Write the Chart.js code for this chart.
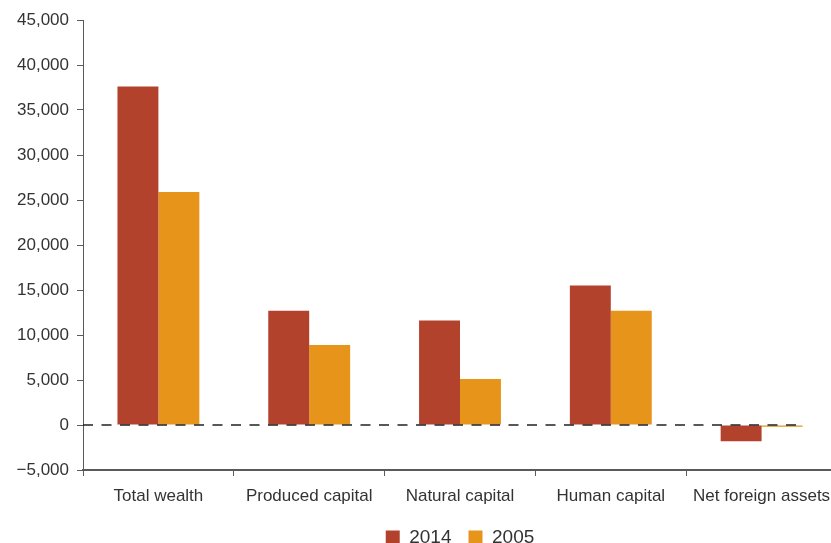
<!DOCTYPE html>
<html>
<head>
<meta charset="utf-8">
<script src="https://cdn.jsdelivr.net/npm/chart.js@4"></script>
<style>
  html, body { margin: 0; padding: 0; overflow: hidden; background: #fff; }
  #wrap { width: 840px; height: 543px; }
</style>
</head>
<body>
<div id="wrap"><canvas id="chart" width="840" height="543"></canvas></div>
<script>
// wealth components, values in USD per capita
const categories = ['Total wealth', 'Produced capital', 'Natural capital', 'Human capital', 'Net foreign assets']
const values2014 = [37600, 12700, 11600, 15500, -1800]
const values2005 = [25900, 8900, 5100, 12700, -200]
const seriesLabels = ['2014', '2005']

const yMin = -5000
const yMax = 45000
const yStep = 5000

const RED = '#B3422D'
const ORANGE = '#E6941A'
const AXIS = '#5a5a5a'
const TEXT = '#333333'
const FONT = '"Liberation Sans", Arial, sans-serif'

// dashed line along zero, drawn over the bar bases
const zeroLine = {
    id: 'zeroLine',
    afterDatasetsDraw(chart) {
        const y = chart.scales.y.getPixelForValue(0)
        const meta = chart.getDatasetMeta(chart.data.datasets.length - 1)
        const last = meta.data[meta.data.length - 1]
        const right = last.x + last.width / 2
        const ctx = chart.ctx
        ctx.save()
        ctx.strokeStyle = '#222'
        ctx.lineWidth = 1.5
        ctx.setLineDash([10, 8.5])
        ctx.beginPath()
        ctx.moveTo(chart.chartArea.left, y)
        ctx.lineTo(right, y)
        ctx.stroke()
        ctx.restore()
    }
}

function formatTick(value) {
    const s = Math.abs(value).toLocaleString('en-US')
    return value < 0 ? '\u2212' + s : s
}

new Chart(document.getElementById('chart').getContext('2d'), {
    type: 'bar',
    data: {
        labels: categories,
        datasets: [
            { label: seriesLabels[0], data: values2014, backgroundColor: RED },
            { label: seriesLabels[1], data: values2005, backgroundColor: ORANGE }
        ]
    },
    plugins: [zeroLine],
    options: {
        responsive: false,
        animation: false,
        devicePixelRatio: 1,
        layout: { padding: { left: 0, right: 3, top: 20, bottom: -14 } },
        datasets: {
            bar: { categoryPercentage: 0.543, barPercentage: 1.0 }
        },
        scales: {
            x: {
                grid: {
                    offset: true,
                    drawOnChartArea: false,
                    drawTicks: true,
                    tickLength: 6,
                    color: AXIS,
                    lineWidth: 1
                },
                border: { display: true, color: AXIS, width: 2 },
                ticks: {
                    color: TEXT,
                    font: { family: FONT, size: 17 },
                    padding: 10,
                    maxRotation: 0,
                    autoSkip: false
                },
                afterFit(scale) {
                    scale.height = 41
                    scale.paddingLeft = 0
                    scale.paddingRight = 0
                }
            },
            y: {
                min: yMin,
                max: yMax,
                grid: {
                    drawOnChartArea: false,
                    drawTicks: true,
                    tickLength: 6,
                    color: AXIS,
                    lineWidth: 1
                },
                border: { display: true, color: AXIS, width: 1 },
                ticks: {
                    stepSize: yStep,
                    color: TEXT,
                    font: { family: FONT, size: 17 },
                    padding: 8,
                    callback: formatTick
                },
                afterFit(scale) { scale.width = 83 }
            }
        },
        plugins: {
            legend: {
                position: 'bottom',
                fullSize: false,
                labels: {
                    boxWidth: 14,
                    boxHeight: 14,
                    padding: 17,
                    color: TEXT,
                    font: { family: FONT, size: 19 }
                }
            },
            tooltip: { enabled: false }
        }
    }
})
</script>
</body>
</html>
